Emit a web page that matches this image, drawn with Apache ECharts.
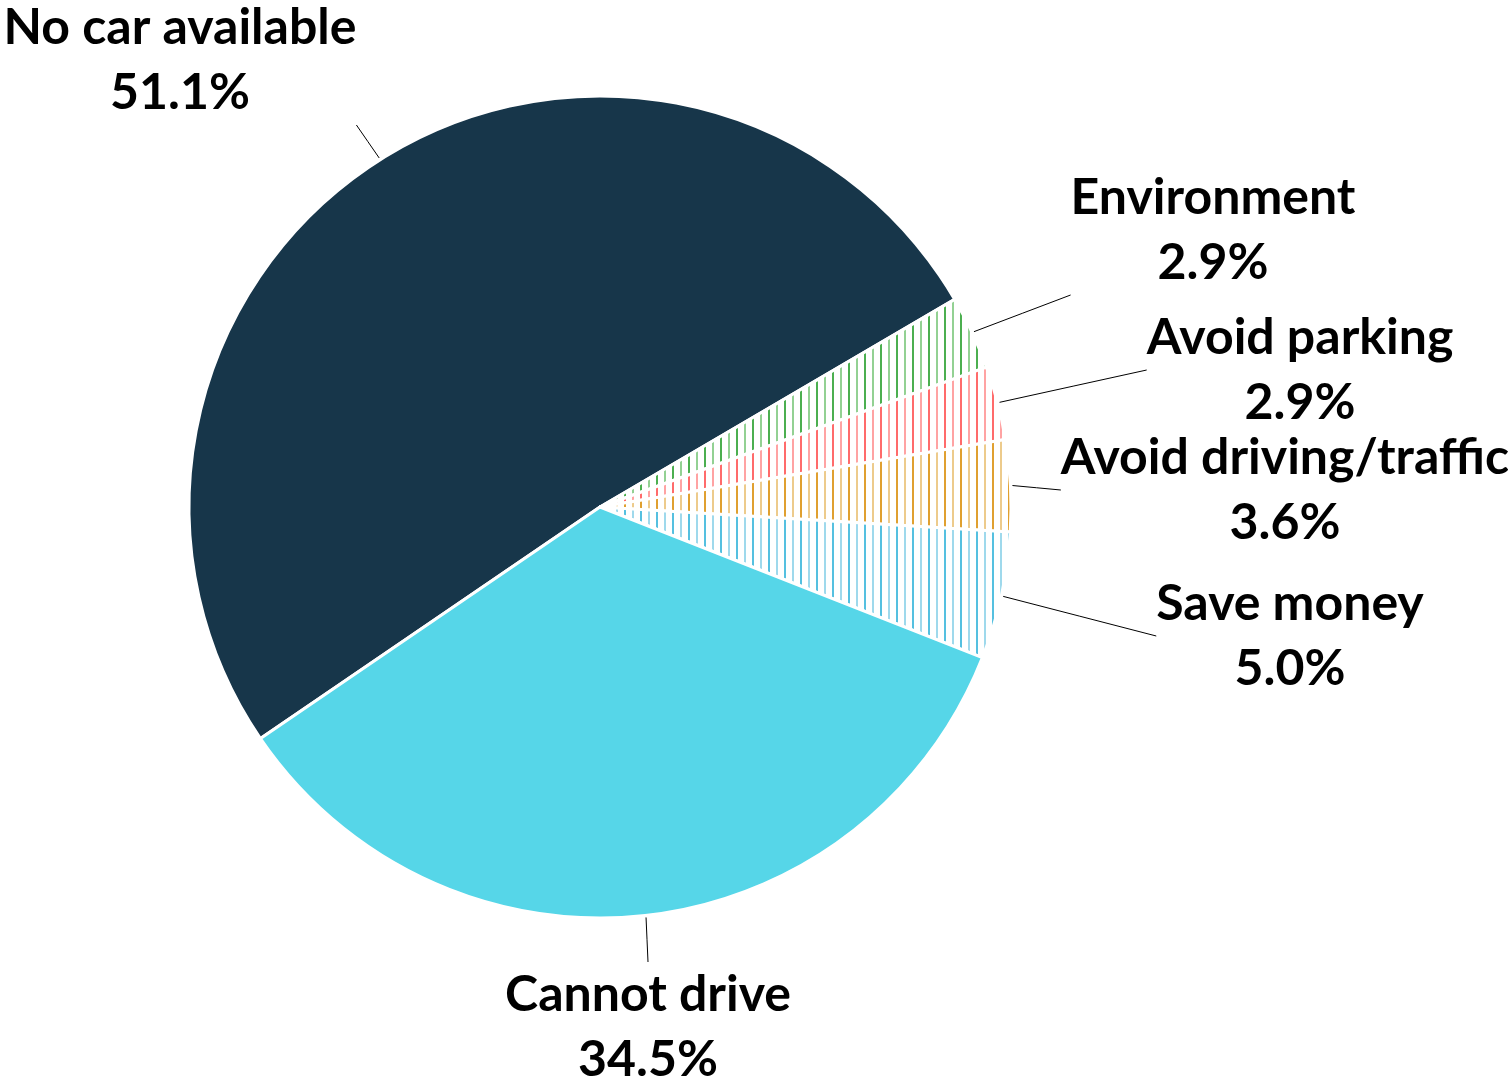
<!DOCTYPE html>
<html>
<head>
<meta charset="utf-8">
<script src="https://cdn.jsdelivr.net/npm/echarts@6/dist/echarts.min.js"></script>
<style>
html,body{margin:0;padding:0;background:#fff;}
#chart{width:1508px;height:1080px;}
</style>
</head>
<body>
<div id="chart"></div>
<script>
// ---- data ----
var categories = ['No car available', 'Environment', 'Avoid parking', 'Avoid driving/traffic', 'Save money', 'Cannot drive'];
var shares = [51.1, 2.9, 2.9, 3.6, 5.0, 34.5];

// ---- styling / layout (not data) ----
var CX = 600, CY = 507, R = 411, START = 214.3;
var solidColors = { 'No car available': '#17364A', 'Cannot drive': '#56D6E8' };
var stripeColors = {
  'Environment': ['#4CAF50', '#93D193'],
  'Avoid parking': ['#FF6B6B', '#FFA3A3'],
  'Avoid driving/traffic': ['#E0A030', '#EDCB8C'],
  'Save money': ['#55C0E0', '#9FD9EC']
};
// label block centers
var labelCenters = {
  'No car available': [180, 60],
  'Environment': [1213, 230],
  'Avoid parking': [1300, 370],
  'Avoid driving/traffic': [1285, 490],
  'Save money': [1290, 636],
  'Cannot drive': [648, 1027]
};

function stripePattern(c) {
  var cv = document.createElement('canvas');
  cv.width = 16; cv.height = 8;
  var g = cv.getContext('2d');
  g.fillStyle = '#ffffff'; g.fillRect(0, 0, 16, 8);
  g.fillStyle = c[0]; g.fillRect(0, 0, 2, 8);
  g.fillStyle = c[1]; g.fillRect(8, 0, 2, 8);
  return { image: cv, repeat: 'repeat' };
}

var total = shares.reduce(function (a, b) { return a + b; }, 0);
var midAngles = [];
(function () {
  var a = START;
  for (var i = 0; i < shares.length; i++) {
    var span = shares[i] / total * 360;
    midAngles.push(a - span / 2);
    a -= span;
  }
})();

var seriesData = categories.map(function (name, i) {
  var color = solidColors[name] ? solidColors[name] : stripePattern(stripeColors[name]);
  return { name: name, value: shares[i], itemStyle: { color: color } };
});

var chart = echarts.init(document.getElementById('chart'), null, { renderer: 'canvas' });
chart.setOption({
  animation: false,
  backgroundColor: '#ffffff',
  series: [{
    type: 'pie',
    center: [CX, CY],
    radius: [0, R],
    startAngle: START,
    clockwise: true,
    avoidLabelOverlap: false,
    itemStyle: { borderColor: '#ffffff', borderWidth: 3 },
    label: {
      show: true,
      color: '#000000',
      fontFamily: 'Lato',
      fontWeight: 'bold',
      fontSize: 50,
      lineHeight: 65,
      align: 'center',
      formatter: function (p) { return p.name + '\n' + p.value.toFixed(1) + '%'; }
    },
    labelLine: { show: true, length: 20, length2: 0, lineStyle: { color: '#000000', width: 1 } },
    labelLayout: function (params) {
      var name = categories[params.dataIndex];
      var c = labelCenters[name];
      var w = params.labelRect.width, h = params.labelRect.height;
      var rx0 = c[0] - w / 2, rx1 = c[0] + w / 2, ry0 = c[1] - h / 2, ry1 = c[1] + h / 2;
      var ang = midAngles[params.dataIndex] * Math.PI / 180;
      var sx = CX + (R + 2) * Math.cos(ang), sy = CY - (R + 2) * Math.sin(ang);
      var ex = sx < rx0 ? rx0 : (sx > rx1 ? rx1 : c[0]);
      var ey = sy < ry0 ? ry0 : (sy > ry1 ? ry1 : c[1]);
      return {
        x: c[0], y: c[1], align: 'center', verticalAlign: 'middle',
        labelLinePoints: [[sx, sy], [(sx + ex) / 2, (sy + ey) / 2], [ex, ey]]
      };
    },
    data: seriesData
  }]
});
</script>
</body>
</html>
